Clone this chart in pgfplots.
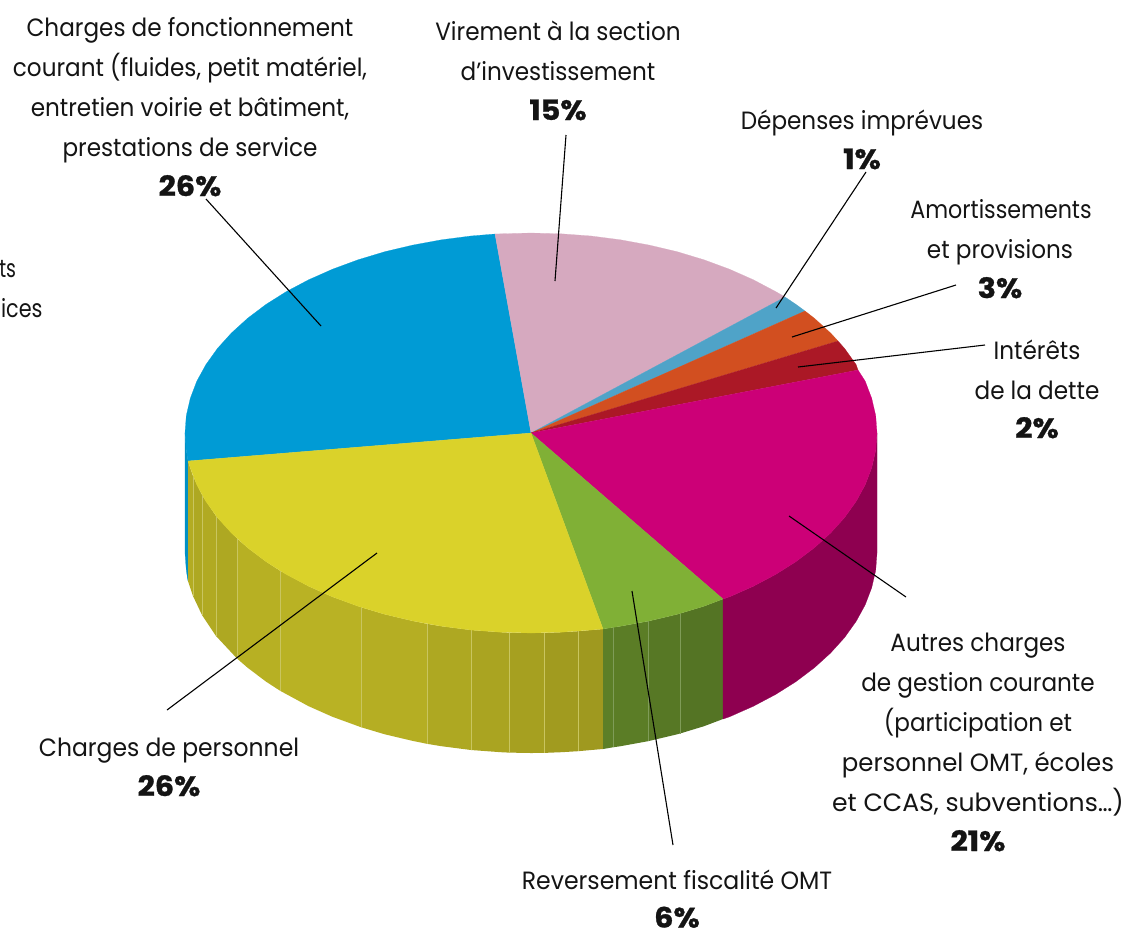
\documentclass[border=0pt]{standalone}
\usepackage{pgfplots}
\pgfplotsset{compat=1.18}
\usepackage{fontspec}
\setmainfont{Poppins}[FakeStretch=0.925,BoldFeatures={FakeStretch=1.08,FakeBold=1}]
\definecolor{cblue}{HTML}{009BD5}
\definecolor{cpink}{HTML}{D6A9BF}
\definecolor{cltblue}{HTML}{4FA3C8}
\definecolor{corange}{HTML}{D24F20}
\definecolor{cred}{HTML}{AB1826}
\definecolor{cmag}{HTML}{CC0077}
\definecolor{cgreen}{HTML}{80B036}
\definecolor{cyellow}{HTML}{DAD22A}
\definecolor{sblue}{HTML}{0090C4}
\definecolor{smag}{HTML}{8E0050}
\definecolor{sepl}{HTML}{C9C55F}
\definecolor{sepg}{HTML}{7F9C58}
\newcommand{\lab}[3]{\node[anchor=base,inner sep=0pt,text=black!92] at (axis cs:#1,#2) {\fontsize{12.5pt}{15pt}\selectfont #3};}
\newcommand{\pc}[1]{\fontsize{14pt}{15pt}\selectfont\textbf{#1}}
\begin{document}
\begin{tikzpicture}
\path[use as bounding box] (0,0) rectangle (569.5pt,466pt);
\begin{axis}[
  at={(0,0)},anchor=south west,
  scale only axis,width=569.5pt,height=466pt,
  xmin=0,xmax=1139,ymin=0,ymax=932,y dir=reverse,
  hide axis,clip=false]
% blue sliver of the side
\addplot[fill=sblue,draw=sblue,line width=0.1pt] coordinates {(185,433)(185,553)(186.3,570.4)(188,581)(188,461)(186.3,450.4)} --cycle;
% side facets yellow
\addplot[fill=cyellow!82!black,draw=none] coordinates {(188,461)(193,476)(193,596)(188,581)} --cycle;
\addplot[fill=cyellow!80!black,draw=none] coordinates {(193,476)(202,495)(202,615)(193,596)} --cycle;
\addplot[fill=cyellow!81!black,draw=none] coordinates {(202,495)(216,516)(216,636)(202,615)} --cycle;
\addplot[fill=cyellow!80!black,draw=none] coordinates {(216,516)(237,538.5)(237,658.5)(216,636)} --cycle;
\addplot[fill=cyellow!84!black,draw=none] coordinates {(237,538.5)(247.6,547.7)(266,561.6)(280,570.7)(280,690.7)(266,681.6)(247.6,667.7)(237,658.5)} --cycle;
\addplot[fill=cyellow!85!black,draw=none] coordinates {(280,570.7)(308.6,586.2)(332.5,596.8)(361,607.2)(361,727.2)(332.5,716.8)(308.6,706.2)(280,690.7)} --cycle;
\addplot[fill=cyellow!83!black,draw=none] coordinates {(361,607.2)(384.8,614.3)(412.7,620.9)(427,623.8)(427,743.8)(412.7,740.9)(384.8,734.3)(361,727.2)} --cycle;
\addplot[fill=cyellow!80!black,draw=none] coordinates {(427,623.8)(441.5,626.2)(471,630)(471,750)(441.5,746.2)(427,743.8)} --cycle;
\addplot[fill=cyellow!78!black,draw=none] coordinates {(471,630)(500.8,632.2)(509,632.6)(509,752.6)(500.8,752.2)(471,750)} --cycle;
\addplot[fill=cyellow!76!black,draw=none] coordinates {(509,632.6)(531,633)(544,632.9)(544,752.9)(531,753)(509,752.6)} --cycle;
\addplot[fill=cyellow!74!black,draw=none] coordinates {(544,632.9)(561.2,632.2)(578,631.2)(578,751.2)(561.2,752.2)(544,752.9)} --cycle;
\addplot[fill=cyellow!73!black,draw=none] coordinates {(578,631.2)(591.1,630)(603,629)(603,749)(591.1,750)(578,751.2)} --cycle;
% side facets green
\addplot[fill=cgreen!72!black,draw=none] coordinates {(603,629)(613,627.3)(613,747.3)(603,749)} --cycle;
\addplot[fill=cgreen!71!black,draw=none] coordinates {(613,627.3)(620.5,626.2)(648,621.2)(648,741.2)(620.5,746.2)(613,747.3)} --cycle;
\addplot[fill=cgreen!68!black,draw=none] coordinates {(648,621.2)(677.2,614.3)(680,613.5)(680,733.5)(677.2,734.3)(648,741.2)} --cycle;
\addplot[fill=cgreen!66!black,draw=none] coordinates {(680,613.5)(704,606.2)(723,599)(723,719)(704,726.2)(680,733.5)} --cycle;
% side magenta
\addplot[fill=smag,draw=smag,line width=0.1pt] coordinates {(723,599)(729.5,596.8)(753.4,586.2)(775.7,574.4)(796,561.6)(814.4,547.7)(830.6,533)(844.6,517.5)(856.1,501.4)(865.2,484.8)(871.7,467.7)(875.7,450.4)(877,433)(877,553)(875.7,570.4)(871.7,587.7)(865.2,604.8)(856.1,621.4)(844.6,637.5)(830.6,653)(814.4,667.7)(796,681.6)(775.7,694.4)(753.4,706.2)(729.5,716.8)(723,719)} --cycle;
% facet separators
\addplot[sepl,line width=0.3pt] coordinates {(193,476)(193,596)};
\addplot[sepl,line width=0.3pt] coordinates {(202,495)(202,615)};
\addplot[sepl,line width=0.3pt] coordinates {(216,516)(216,636)};
\addplot[sepl,line width=0.3pt] coordinates {(237,538.5)(237,658.5)};
\addplot[sepl,line width=0.3pt] coordinates {(280,570.7)(280,690.7)};
\addplot[sepl,line width=0.3pt] coordinates {(361,607.2)(361,727.2)};
\addplot[sepl,line width=0.3pt] coordinates {(427,623.8)(427,743.8)};
\addplot[sepl,line width=0.3pt] coordinates {(471,630)(471,750)};
\addplot[sepl,line width=0.3pt] coordinates {(509,632.6)(509,752.6)};
\addplot[sepl,line width=0.3pt] coordinates {(544,632.9)(544,752.9)};
\addplot[sepl,line width=0.3pt] coordinates {(578,631.2)(578,751.2)};
\addplot[sepg,line width=0.3pt] coordinates {(613,627.3)(613,747.3)};
\addplot[sepg,line width=0.3pt] coordinates {(648,621.2)(648,741.2)};
\addplot[sepg,line width=0.3pt] coordinates {(680,613.5)(680,733.5)};
% top slices
\addplot[fill=cblue,draw=cblue,line width=0.1pt] coordinates {(531,433)(495,234)(470.9,236)(441.5,239.8)(412.7,245.1)(384.8,251.7)(358,259.8)(332.5,269.2)(308.6,279.8)(286.3,291.6)(266,304.4)(247.6,318.3)(231.4,333)(217.4,348.5)(205.9,364.6)(196.8,381.2)(190.3,398.3)(186.3,415.6)(185,433)(186.3,450.4)(188,461)} --cycle;
\addplot[fill=cpink,draw=cpink,line width=0.1pt] coordinates {(531,433)(785,297)(775.7,291.6)(753.4,279.8)(729.5,269.2)(704,259.8)(677.2,251.7)(649.3,245.1)(620.5,239.8)(591.1,236)(561.2,233.8)(531,233)(500.8,233.8)(495,234)} --cycle;
\addplot[fill=cltblue,draw=cltblue,line width=0.1pt] coordinates {(531,433)(805,311)(796,304.4)(785,297)} --cycle;
\addplot[fill=corange,draw=corange,line width=0.1pt] coordinates {(531,433)(838,341)(830.6,333)(814.4,318.3)(805,311)} --cycle;
\addplot[fill=cred,draw=cred,line width=0.1pt] coordinates {(531,433)(858,370)(856.1,364.6)(844.6,348.5)(838,341)} --cycle;
\addplot[fill=cmag,draw=cmag,line width=0.1pt] coordinates {(531,433)(723,599)(729.5,596.8)(753.4,586.2)(775.7,574.4)(796,561.6)(814.4,547.7)(830.6,533)(844.6,517.5)(856.1,501.4)(865.2,484.8)(871.7,467.7)(875.7,450.4)(877,433)(875.7,415.6)(871.7,398.3)(865.2,381.2)(858,370)} --cycle;
\addplot[fill=cgreen,draw=cgreen,line width=0.1pt] coordinates {(531,433)(603,629)(620.5,626.2)(649.3,620.9)(677.2,614.3)(704,606.2)(723,599)} --cycle;
\addplot[fill=cyellow,draw=cyellow,line width=0.1pt] coordinates {(531,433)(188,461)(190.3,467.7)(196.8,484.8)(205.9,501.4)(217.4,517.5)(231.4,533)(247.6,547.7)(266,561.6)(286.3,574.4)(308.6,586.2)(332.5,596.8)(358,606.2)(384.8,614.3)(412.7,620.9)(441.5,626.2)(470.9,630)(500.8,632.2)(531,633)(561.2,632.2)(591.1,630)(603,629)} --cycle;
% leader lines
\addplot[black,line width=0.55pt] coordinates {(206,199)(321,326)};
\addplot[black,line width=0.55pt] coordinates {(566,135)(555,281)};
\addplot[black,line width=0.55pt] coordinates {(866,172)(776,308)};
\addplot[black,line width=0.55pt] coordinates {(956,285)(792,337)};
\addplot[black,line width=0.55pt] coordinates {(985,345)(798,367)};
\addplot[black,line width=0.55pt] coordinates {(906,597)(789,516)};
\addplot[black,line width=0.55pt] coordinates {(673,845)(632,591)};
\addplot[black,line width=0.55pt] coordinates {(377,553)(167,710)};
% labels
\lab{190}{36}{Charges de fonctionnement}
\lab{190}{76}{courant (fluides, petit matériel,}
\lab{190}{116}{entretien voirie et bâtiment,}
\lab{190}{156}{prestations de service}
\lab{190}{196}{\pc{26\%}}
\lab{558}{40}{Virement à la section}
\lab{558}{80}{d'investissement}
\lab{558}{120}{\pc{15\%}}
\lab{862}{129}{Dépenses imprévues}
\lab{862}{169}{\pc{1\%}}
\lab{1001}{218}{\scalebox{0.96}[1]{Amortissements}}
\lab{1000}{258}{et provisions}
\lab{1000}{298}{\pc{3\%}}
\lab{1037}{359}{Intérêts}
\lab{1037}{399}{de la dette}
\lab{1037}{438}{\pc{2\%}}
\lab{978}{651}{Autres charges}
\lab{978}{691}{de gestion courante}
\lab{978}{731}{(participation et}
\lab{978}{771}{\scalebox{1.055}[1]{personnel OMT, écoles}}
\lab{978}{811}{\scalebox{1.085}[1]{et CCAS, subventions…)}}
\lab{978}{851}{\pc{21\%}}
\lab{677}{889}{\scalebox{1.02}[1]{Reversement fiscalité OMT}}
\lab{677}{927.5}{\pc{6\%}}
\lab{169}{756}{\scalebox{1.015}[1]{Charges de personnel}}
\lab{169}{796}{\pc{26\%}}
\node[anchor=base east,inner sep=0pt,text=black!92] at (axis cs:16.5,277) {\fontsize{12.5pt}{15pt}\selectfont\scalebox{0.82}[1]{ts}};
\node[anchor=base east,inner sep=0pt,text=black!92] at (axis cs:43,317) {\fontsize{12.5pt}{15pt}\selectfont\scalebox{0.9}[1]{ices}};
\end{axis}
\end{tikzpicture}
\end{document}
